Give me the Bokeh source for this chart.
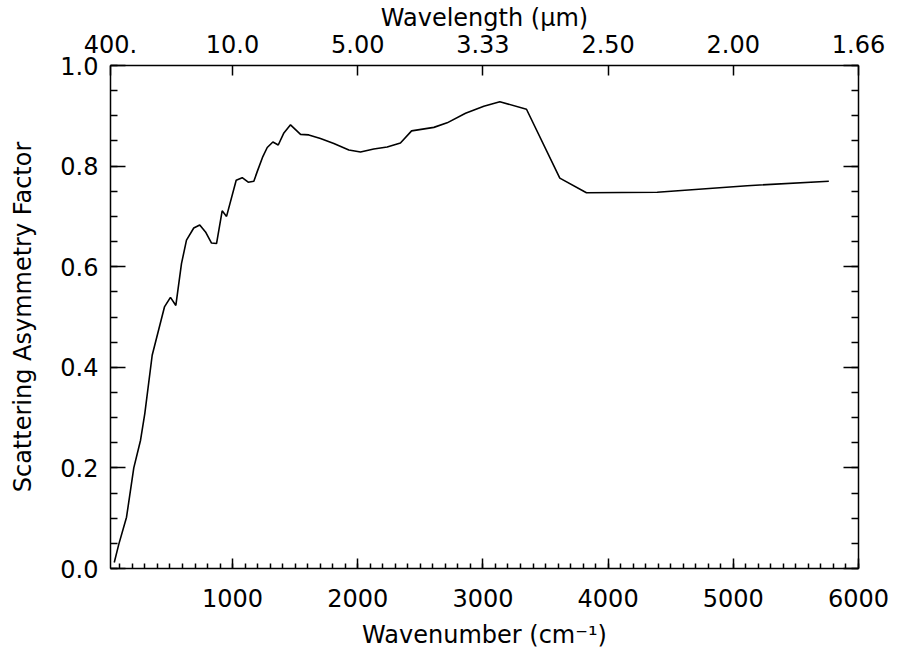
from bokeh.plotting import figure
from bokeh.models import LinearAxis, FixedTicker, Range1d, PrintfTickFormatter, CustomJSTickFormatter
from bokeh.embed import file_html
from bokeh.resources import INLINE

# Data
wavenumber = [55, 91, 153, 211, 265, 299, 358, 456, 504, 547, 592, 632, 690, 738, 784,
              832, 872, 917, 952, 1029, 1077, 1125, 1170, 1197, 1242, 1277, 1322, 1365,
              1410, 1463, 1543, 1609, 1702, 1809, 1929, 2022, 2128, 2235, 2341, 2430,
              2608, 2714, 2861, 3007, 3135, 3348, 3614, 3827, 4392, 5111, 5763]
asymmetry = [0.012, 0.048, 0.102, 0.200, 0.255, 0.308, 0.424, 0.520, 0.539, 0.523,
             0.606, 0.653, 0.677, 0.683, 0.669, 0.647, 0.646, 0.711, 0.700, 0.772,
             0.777, 0.768, 0.770, 0.789, 0.819, 0.837, 0.848, 0.842, 0.866, 0.882,
             0.863, 0.862, 0.855, 0.845, 0.832, 0.828, 0.834, 0.838, 0.846, 0.870,
             0.877, 0.886, 0.905, 0.919, 0.928, 0.913, 0.776, 0.747, 0.748, 0.761, 0.770]

bottom_ticks = [1000, 2000, 3000, 4000, 5000, 6000]
bottom_minor = list(range(100, 6001, 100))
top_ticks = [25, 1000, 2000, 3000, 4000, 5000, 6000]
top_tick_labels = ["400.", "10.0", "5.00", "3.33", "2.50", "2.00", "1.66"]
y_ticks = [0.0, 0.2, 0.4, 0.6, 0.8, 1.0]
y_minor = [round(i * 0.05, 2) for i in range(0, 21)]

FONT = "DejaVu Sans"
FS = "24px"

p = figure(width=898, height=657, output_backend="svg", toolbar_location=None,
           x_range=Range1d(25, 6000), y_range=Range1d(0, 1.0),
           x_axis_type=None, y_axis_type=None,
           min_border_left=110, min_border_right=40, min_border_top=65, min_border_bottom=89)
p.outline_line_color = None
p.background_fill_color = "white"
p.border_fill_color = "white"


def style(ax, major_len, minor_len):
    ax.axis_line_color = "black"
    ax.axis_line_width = 1.5
    ax.major_tick_in = major_len
    ax.major_tick_out = 0
    ax.minor_tick_in = minor_len
    ax.minor_tick_out = 0
    ax.major_tick_line_color = "black"
    ax.major_tick_line_width = 1.5
    ax.minor_tick_line_color = "black"
    ax.minor_tick_line_width = 1.5
    ax.major_label_text_font = FONT
    ax.major_label_text_font_size = FS
    ax.major_label_text_color = "black"
    ax.axis_label_text_font = FONT
    ax.axis_label_text_font_size = FS
    ax.axis_label_text_font_style = "normal"
    ax.axis_label_text_color = "black"


bottom = LinearAxis(ticker=FixedTicker(ticks=bottom_ticks, minor_ticks=bottom_minor),
                    axis_label="Wavenumber (cm\u207b\u00b9)")
style(bottom, 10, 5)
bottom.major_label_standoff = 20
bottom.axis_label_standoff = 11
p.add_layout(bottom, "below")

top = LinearAxis(ticker=FixedTicker(ticks=top_ticks, minor_ticks=[]),
                 axis_label="Wavelength (\u03bcm)",
                 major_label_overrides={t: l for t, l in zip(top_ticks, top_tick_labels)})
style(top, 10, 0)
top.major_label_standoff = 13
top.axis_label_standoff = 0
p.add_layout(top, "above")

left = LinearAxis(ticker=FixedTicker(ticks=y_ticks, minor_ticks=y_minor),
                  axis_label="Scattering Asymmetry Factor",
                  formatter=PrintfTickFormatter(format="%.1f"))
style(left, 15, 7)
left.major_label_standoff = 12
left.axis_label_standoff = 20
p.add_layout(left, "left")

right = LinearAxis(ticker=FixedTicker(ticks=y_ticks, minor_ticks=y_minor),
                   formatter=CustomJSTickFormatter(code="return ''"))
style(right, 15, 7)
right.major_label_standoff = 0
p.add_layout(right, "right")

p.line(wavenumber, asymmetry, line_color="black", line_width=1.6)

open("out.html", "w").write(file_html(p, INLINE))
